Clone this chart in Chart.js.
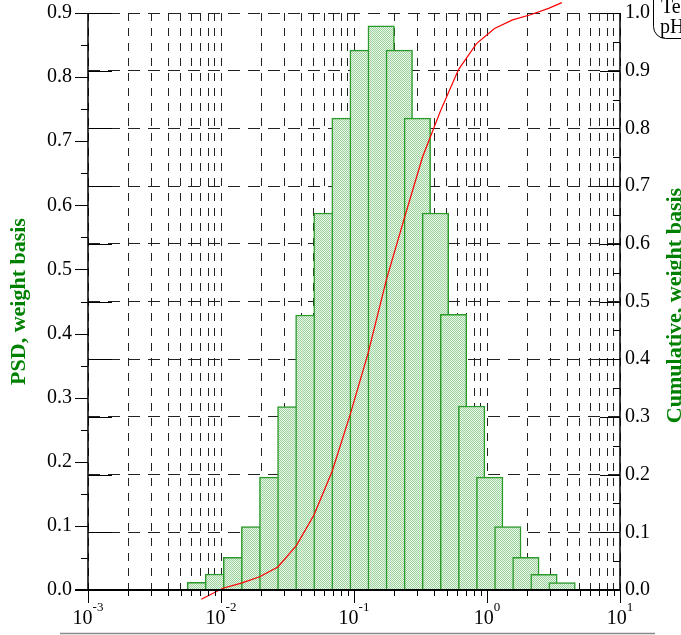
<!DOCTYPE html>
<html>
<head>
<meta charset="utf-8">
<script src="https://cdn.jsdelivr.net/npm/chart.js"></script>
<style>
  html, body { margin: 0; padding: 0; background: #fff; overflow: hidden; }
  canvas { display: block; }
</style>
</head>
<body>
<canvas id="psdChart" width="681" height="635"></canvas>
<script>
// histogram bins (centre of each bin) and PSD on a weight basis
const binCenters = [0.0070, 0.00957, 0.01309, 0.0179, 0.02448, 0.03348, 0.04578, 0.06261, 0.08562, 0.1171, 0.1601,
                    0.2190, 0.2995, 0.4097, 0.5603, 0.7663, 1.048, 1.433, 1.960, 2.681, 3.667];
const psdValues = [0.012, 0.025, 0.051, 0.099, 0.176, 0.286, 0.429, 0.588, 0.736, 0.842, 0.880,
                   0.842, 0.736, 0.588, 0.430, 0.287, 0.176, 0.099, 0.051, 0.0245, 0.0114];

// cumulative curve (right axis)
const cumX = [0.00711, 0.01034, 0.01422, 0.01952, 0.0268, 0.03686, 0.05, 0.06833, 0.09331, 0.1275, 0.1753,
              0.2394, 0.3271, 0.4468, 0.6104, 0.8337, 1.139, 1.556, 2.125, 2.903, 3.655];
const cumValues = [-0.016, 0.003, 0.012, 0.023, 0.040, 0.077, 0.130, 0.205, 0.303, 0.410, 0.538,
                   0.645, 0.750, 0.830, 0.902, 0.947, 0.973, 0.988, 0.997, 1.008, 1.018];

// axis labels
const decadeValues = [0.001, 0.01, 0.1, 1, 10];
const decadeExponents = ['-3', '-2', '-1', '0', '1'];
const leftTitle = 'PSD, weight basis';
const rightTitle = 'Cumulative, weight basis';
const legendLines = ['Temperature', 'pH'];

const serif = "'Liberation Serif', 'Times New Roman', serif";

// grid at 1..9 x each decade
let gridValues = [];
decadeValues.slice(0, -1).forEach(d => {
    for (let m = 1; m <= 9; m++) gridValues.push(m * d);
});
gridValues.push(10);

// dotted light-green fill like the original hatch
const patCanvas = document.createElement('canvas');
patCanvas.width = 2;
patCanvas.height = 2;
const pctx = patCanvas.getContext('2d');
pctx.fillStyle = 'rgb(235,246,235)';
pctx.fillRect(0, 0, 2, 2);
pctx.fillStyle = 'rgb(155,210,155)';
pctx.fillRect(0, 0, 1, 1);
pctx.fillRect(1, 1, 1, 1);
const barFill = pctx.createPattern(patCanvas, 'repeat');

// vertical axes: fixed width, no extra top/bottom padding
function fixWidth(w) {
    return (scale) => {
        scale.width = w;
        scale.paddingTop = 0;
        scale.paddingBottom = 0;
    };
}

// axes, tick marks, titles, legend box
const frame = {
    id: 'frame',
    afterDatasetsDraw(chart) {
        const { ctx, chartArea: a, scales: { x, y, y1 } } = chart;
        ctx.save();
        ctx.setLineDash([]);
        ctx.strokeStyle = '#000';
        ctx.lineWidth = 1;

        ctx.beginPath();
        // bottom ticks, outward
        x.ticks.forEach(t => {
            const px = Math.round(x.getPixelForValue(t.value)) + 0.5;
            const len = decadeValues.includes(t.value) ? 13 : 6;
            ctx.moveTo(px, a.bottom);
            ctx.lineTo(px, a.bottom + len);
        });
        // left ticks, outward (0.05 steps)
        for (let k = 0; k <= 18; k++) {
            const py = Math.round(y.getPixelForValue(k * 0.05)) + 0.5;
            ctx.moveTo(a.left, py);
            ctx.lineTo(a.left - (k % 2 === 0 ? 13 : 7), py);
        }
        // right ticks, inward, plus the short marks on the left side
        for (let k = 0; k <= 20; k++) {
            const py = Math.round(y1.getPixelForValue(k * 0.05)) + 0.5;
            ctx.moveTo(a.right, py);
            ctx.lineTo(a.right - (k % 2 === 0 ? 20 : 7), py);
            if (k % 2 === 0) {
                ctx.moveTo(a.left, py);
                ctx.lineTo(a.left + 24, py);
            }
        }
        ctx.stroke();

        // axis lines
        ctx.lineWidth = 1.5;
        ctx.beginPath();
        ctx.moveTo(a.left, a.top);
        ctx.lineTo(a.left, a.bottom);
        ctx.moveTo(a.right, a.top);
        ctx.lineTo(a.right, a.bottom);
        ctx.stroke();
        ctx.lineWidth = 2;
        ctx.beginPath();
        ctx.moveTo(a.left - 13, a.bottom);
        ctx.lineTo(a.right, a.bottom);
        ctx.stroke();

        // x labels 10^n
        ctx.fillStyle = '#000';
        ctx.textBaseline = 'alphabetic';
        ctx.textAlign = 'left';
        decadeValues.forEach((v, i) => {
            const px = x.getPixelForValue(v);
            ctx.font = '20px ' + serif;
            const wBase = ctx.measureText('10').width;
            ctx.font = '13px ' + serif;
            const wExp = ctx.measureText(decadeExponents[i]).width;
            const x0 = px - (wBase + wExp) / 2;
            ctx.font = '20px ' + serif;
            ctx.fillText('10', x0, 624);
            ctx.font = '13px ' + serif;
            ctx.fillText(decadeExponents[i], x0 + wBase, 611);
        });

        // axis titles
        ctx.fillStyle = '#008000';
        ctx.font = 'bold 22px ' + serif;
        ctx.textAlign = 'center';
        ctx.textBaseline = 'middle';
        const midY = (a.top + a.bottom) / 2;
        ctx.save();
        ctx.translate(19, midY);
        ctx.rotate(-Math.PI / 2);
        ctx.fillText(leftTitle, 0, 0);
        ctx.restore();
        ctx.save();
        ctx.translate(675, midY + 4);
        ctx.rotate(-Math.PI / 2);
        ctx.fillText(rightTitle, 0, 0);
        ctx.restore();

        // legend box, cut by the right edge
        ctx.strokeStyle = '#000';
        ctx.lineWidth = 1;
        ctx.beginPath();
        ctx.roundRect(653.5, -20, 120, 58.5, 12);
        ctx.stroke();
        ctx.fillStyle = '#000';
        ctx.font = '20px ' + serif;
        ctx.textAlign = 'left';
        ctx.textBaseline = 'alphabetic';
        ctx.fillText(legendLines[0], 661, 13);
        ctx.fillText(legendLines[1], 660, 33);

        // grey rule at the bottom
        ctx.strokeStyle = '#888';
        ctx.lineWidth = 1.5;
        ctx.beginPath();
        ctx.moveTo(60, 633.5);
        ctx.lineTo(655, 633.5);
        ctx.stroke();
        ctx.restore();
    }
};

const psdCtx = document.getElementById('psdChart').getContext('2d');
const psdChart = new Chart(psdCtx, {
    type: 'bar',
    data: {
        datasets: [
            {
                type: 'line',
                label: 'Cumulative',
                data: cumX.map((v, i) => ({ x: v, y: cumValues[i] })),
                yAxisID: 'y1',
                borderColor: 'red',
                borderWidth: 1.2,
                pointRadius: 0,
                tension: 0,
                clip: false,
                order: 0
            },
            {
                type: 'bar',
                label: 'PSD',
                data: binCenters.map((v, i) => ({ x: v, y: psdValues[i] })),
                yAxisID: 'y',
                backgroundColor: barFill,
                borderColor: '#2a9a2a',
                borderWidth: 1.5,
                barThickness: 26.5,
                order: 1
            }
        ]
    },
    options: {
        responsive: false,
        animation: false,
        events: [],
        layout: { autoPadding: false, padding: { top: 13, left: 0, right: 0, bottom: 0 } },
        plugins: { legend: { display: false }, tooltip: { enabled: false } },
        scales: {
            x: {
                type: 'logarithmic',
                min: 0.001,
                max: 10,
                offset: false,
                grid: { offset: false, color: '#222', lineWidth: 1, drawTicks: false },
                border: { display: false, dash: [8, 7] },
                ticks: { display: false, autoSkip: false },
                afterBuildTicks: (scale) => { scale.ticks = gridValues.map(v => ({ value: v })); },
                afterFit: (scale) => { scale.height = 45; }
            },
            y: {
                position: 'left',
                min: 0,
                max: 0.9,
                grid: { display: false, drawTicks: false },
                border: { display: false },
                ticks: {
                    stepSize: 0.1,
                    padding: 16,
                    color: '#000',
                    font: { family: serif, size: 20 },
                    callback: (v) => v.toFixed(1)
                },
                afterFit: fixWidth(88)
            },
            y1: {
                position: 'right',
                min: 0,
                max: 1,
                grid: { color: '#222', lineWidth: 1, drawTicks: false },
                border: { display: false, dash: [12, 8] },
                ticks: {
                    stepSize: 0.1,
                    padding: 5,
                    color: '#000',
                    font: { family: serif, size: 20 },
                    callback: (v) => v.toFixed(1)
                },
                afterFit: fixWidth(61)
            }
        }
    },
    plugins: [frame]
});
</script>
</body>
</html>
